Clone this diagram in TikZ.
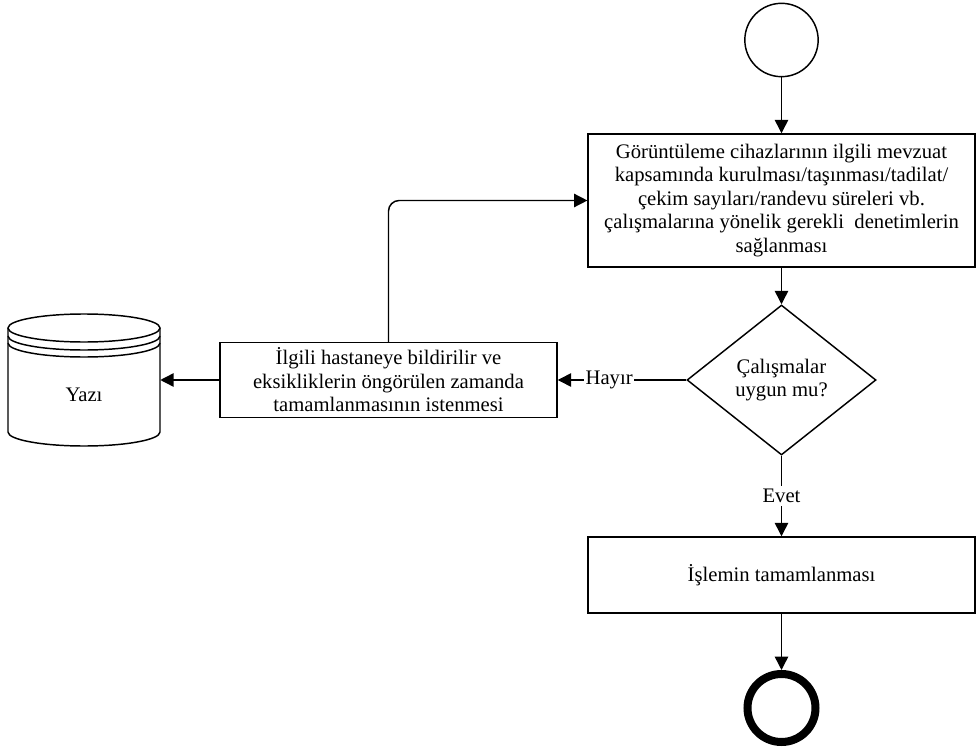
\documentclass[tikz,border=0pt]{standalone}
\usepackage{fontspec}
\setmainfont{Liberation Serif}
\usetikzlibrary{shapes.geometric,arrows.meta}

\tikzset{
  kutu/.style={draw,line width=1.1pt,align=center,inner sep=2pt},
  karar/.style={draw,diamond,line width=1.1pt,align=center,inner sep=0pt,
    minimum width=141.75pt,minimum height=112.5pt},
  ok/.style={->,line width=1.1pt},
}

\begin{document}
\begin{tikzpicture}[x=0.75pt,y=-0.75pt,>={Triangle[length=10pt,width=10pt]},
    font=\fontsize{15.5}{17.6}\selectfont]
  \useasboundingbox (0,0) rectangle (976,749);

  \node[circle,draw,line width=1.1pt,minimum size=55pt,inner sep=0pt] (basla) at (781.5,40) {};
  \node[kutu,minimum width=290pt,minimum height=99.75pt] (denetim) at (781.5,200.5)
    {Görüntüleme cihazlarının ilgili mevzuat\\kapsamında kurulması/taşınması/tadilat/\\çekim sayıları/randevu süreleri vb.\\çalışmalarına yönelik gerekli\ \ denetimlerin\\sağlanması};
  \node[karar] (kontrol) at (781.5,380) {Çalışmalar\\uygun mu?};
  \node[kutu,minimum width=252.75pt,minimum height=56.25pt] (bildirim) at (388.5,380)
    {İlgili hastaneye bildirilir ve\\eksikliklerin öngörülen zamanda\\tamamlanmasının istenmesi};
  \node[kutu,minimum width=290pt,minimum height=57pt] (islem) at (781.5,575) {İşlemin tamamlanması};
  \node[circle,draw,line width=6pt,minimum size=51pt,inner sep=0pt] (bitis) at (781.5,708) {};

  \draw[line width=1.1pt] (84,328) ellipse [x radius=57pt,y radius=10.5pt];
  \draw[line width=1.1pt] (8,328) -- (8,432)
    arc[start angle=180,end angle=360,x radius=57pt,y radius=10.5pt] -- (160,328);
  \draw[line width=1.1pt] (8,336) arc[start angle=180,end angle=360,x radius=57pt,y radius=10.5pt];
  \draw[line width=1.1pt] (8,343) arc[start angle=180,end angle=360,x radius=57pt,y radius=10.5pt];
  \node[minimum width=114pt,inner sep=0pt] (yazi) at (84,395) {Yazı};

  \draw[ok] (basla) -- (denetim);
  \draw[ok] (denetim) -- (kontrol);
  \draw[ok] (kontrol) -- node[pos=0.6,fill=white,inner sep=1pt] {Hayır} (bildirim);
  \draw[ok] (kontrol) -- node[fill=white,inner sep=2pt] {Evet} (islem);
  \draw[ok] (islem) -- (bitis);
  \draw[ok] (bildirim.west) -- (bildirim.west -| yazi.east);
  \draw[ok,rounded corners=8pt] (bildirim.north) |- (denetim.west);
\end{tikzpicture}
\end{document}
